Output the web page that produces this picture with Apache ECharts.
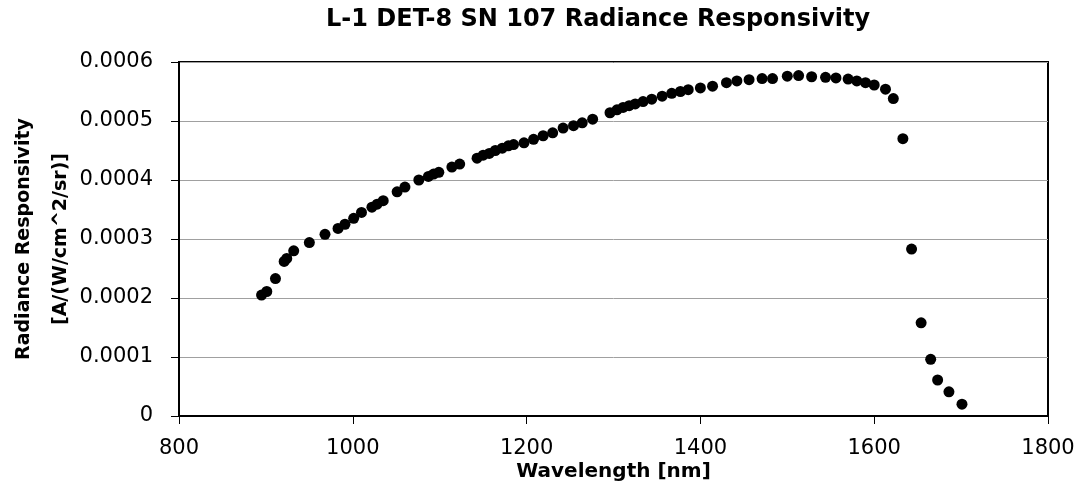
<!DOCTYPE html>
<html>
<head>
<meta charset="utf-8">
<script src="https://cdn.jsdelivr.net/npm/echarts@6/dist/echarts.min.js"></script>
<style>
  html, body { margin: 0; padding: 0; background: #fff; }
  #chart { width: 1081px; height: 490px; }
</style>
</head>
<body>
<div id="chart"></div>
<script>
  // wavelength [nm] of each measured point
  const wavelengths = [
    895, 901, 911, 921, 924, 932, 950, 968, 983, 991,
    1001, 1010, 1022, 1028, 1035, 1051, 1060, 1076, 1087, 1093,
    1099, 1114, 1123, 1143, 1150, 1157, 1164, 1172, 1179, 1185,
    1197, 1208, 1219, 1230, 1242, 1254, 1264, 1276, 1296, 1304,
    1311, 1318, 1325, 1334, 1344, 1356, 1367, 1377, 1386, 1400,
    1414, 1430, 1442, 1456, 1471, 1483, 1500, 1513, 1528, 1544,
    1556, 1570, 1580, 1590, 1600, 1613, 1622, 1633, 1643, 1654,
    1665, 1673, 1686, 1701
  ];
  // radiance responsivity [A/(W/cm^2/sr)]
  const responsivity = [
    0.000205, 0.000211, 0.000233, 0.000262, 0.000267, 0.000280, 0.000294, 0.000308, 0.000318, 0.000325,
    0.000335, 0.000345, 0.000354, 0.000359, 0.000365, 0.000380, 0.000388, 0.000400, 0.000406, 0.000410,
    0.000413, 0.000422, 0.000427, 0.000437, 0.000442, 0.000445, 0.000450, 0.000454, 0.000458, 0.000460,
    0.000463, 0.000469, 0.000475, 0.000480, 0.000488, 0.000492, 0.000497, 0.000503, 0.000514, 0.000519,
    0.000523, 0.000526, 0.000529, 0.000533, 0.000537, 0.000542, 0.000547, 0.000550, 0.000553, 0.000556,
    0.000559, 0.000565, 0.000568, 0.000570, 0.000572, 0.000572, 0.000576, 0.000577, 0.000575, 0.000574,
    0.000573, 0.000571, 0.000568, 0.000565, 0.000561, 0.000554, 0.000538, 0.000470, 0.000283, 0.000158,
    0.000096, 0.000061, 0.000041, 0.000020
  ];

  const FONT = '"DejaVu Sans", sans-serif';

  const points = wavelengths.map((w, i) => [w, responsivity[i]]);

  const chart = echarts.init(document.getElementById('chart'));
  chart.setOption({
    animation: false,
    title: {
      text: 'L-1 DET-8 SN 107 Radiance Responsivity',
      left: 321,
      top: 3,
      textStyle: { fontFamily: FONT, fontWeight: 'bold', fontSize: 24, color: '#000' }
    },
    grid: {
      show: true,
      left: 179,
      right: 33,
      top: 62,
      bottom: 74,
      outerBoundsMode: 'none',
      containLabel: false,
      borderColor: '#000',
      borderWidth: 2,
      backgroundColor: '#fff'
    },
    xAxis: {
      type: 'value',
      min: 800,
      max: 1800,
      interval: 200,
      name: 'Wavelength [nm]',
      nameLocation: 'middle',
      nameGap: 46,
      nameMoveOverlap: false,
      nameTextStyle: { fontFamily: FONT, fontWeight: 'bold', fontSize: 20, color: '#000' },
      axisLine: { onZero: false, lineStyle: { color: '#000', width: 2 } },
      axisTick: { show: true, inside: false, length: 8, lineStyle: { color: '#000', width: 1 } },
      axisLabel: {
        fontFamily: FONT, fontSize: 21, color: '#000', margin: 22,
        formatter: function (v) { return String(v); }
      },
      splitLine: { show: false }
    },
    yAxis: {
      type: 'value',
      min: 0,
      max: 0.0006,
      interval: 0.0001,
      name: 'Radiance Responsivity\n[A/(W/cm^2/sr)]',
      nameLocation: 'middle',
      nameRotate: 90,
      nameGap: 99,
      nameMoveOverlap: false,
      nameTextStyle: { fontFamily: FONT, fontWeight: 'bold', fontSize: 19, color: '#000', lineHeight: 37 },
      axisLine: { lineStyle: { color: '#000', width: 2 } },
      axisTick: { show: true, inside: false, length: 8, lineStyle: { color: '#000', width: 1 } },
      axisLabel: {
        fontFamily: FONT, fontSize: 21, color: '#000', margin: 26,
        formatter: function (v) { return v === 0 ? '0' : v.toFixed(4); }
      },
      splitLine: { show: true, lineStyle: { color: '#a0a0a0', width: 1 } }
    },
    series: [
      {
        type: 'scatter',
        data: points,
        symbol: 'circle',
        symbolSize: 11,
        itemStyle: { color: '#000', opacity: 1 }
      }
    ]
  });
</script>
</body>
</html>
